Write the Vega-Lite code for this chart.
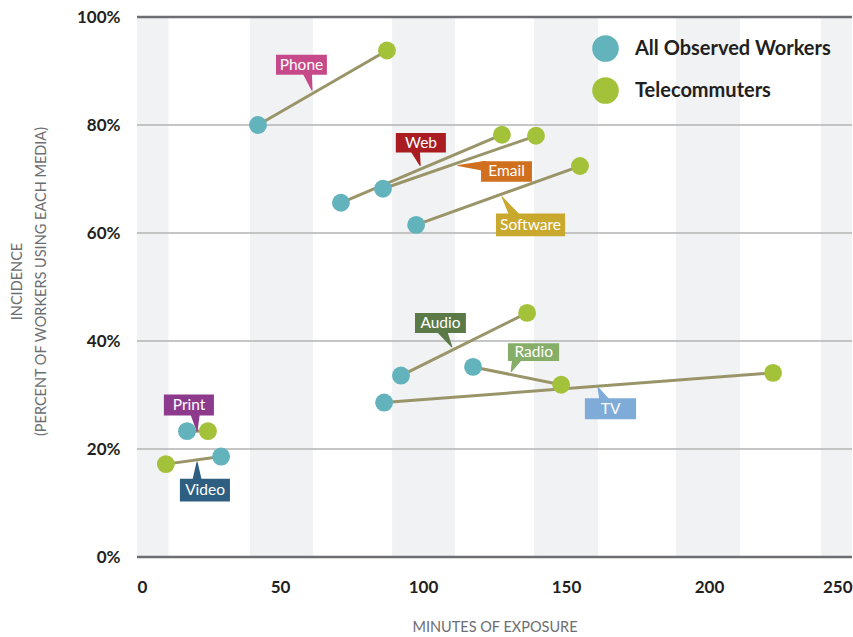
{
  "$schema": "https://vega.github.io/schema/vega-lite/v6.json",
  "width": 715,
  "height": 540,
  "autosize": {"type": "none"},
  "padding": {"left": 137, "top": 17, "right": 1, "bottom": 80},
  "config": {
    "view": {"stroke": null},
    "font": "Lato",
    "axis": {"grid": false, "ticks": false, "domain": false, "labelFont": "Lato", "titleFont": "Lato"}
  },
  "datasets": {
    "points": [
      {"media": "Phone", "group": "All Observed Workers", "minutes": 42.3, "pct": 80.0},
      {"media": "Phone", "group": "Telecommuters", "minutes": 87.4, "pct": 93.8},
      {"media": "Web", "group": "All Observed Workers", "minutes": 71.3, "pct": 65.6},
      {"media": "Web", "group": "Telecommuters", "minutes": 127.6, "pct": 78.2},
      {"media": "Email", "group": "All Observed Workers", "minutes": 86.0, "pct": 68.2},
      {"media": "Email", "group": "Telecommuters", "minutes": 139.5, "pct": 78.0},
      {"media": "Software", "group": "All Observed Workers", "minutes": 97.6, "pct": 61.5},
      {"media": "Software", "group": "Telecommuters", "minutes": 154.9, "pct": 72.4},
      {"media": "Audio", "group": "All Observed Workers", "minutes": 92.3, "pct": 33.6},
      {"media": "Audio", "group": "Telecommuters", "minutes": 136.4, "pct": 45.2},
      {"media": "Radio", "group": "All Observed Workers", "minutes": 117.5, "pct": 35.2},
      {"media": "Radio", "group": "Telecommuters", "minutes": 148.3, "pct": 31.9},
      {"media": "TV", "group": "All Observed Workers", "minutes": 86.4, "pct": 28.6},
      {"media": "TV", "group": "Telecommuters", "minutes": 222.4, "pct": 34.1},
      {"media": "Print", "group": "All Observed Workers", "minutes": 17.5, "pct": 23.3},
      {"media": "Print", "group": "Telecommuters", "minutes": 24.8, "pct": 23.3},
      {"media": "Video", "group": "All Observed Workers", "minutes": 29.4, "pct": 18.6},
      {"media": "Video", "group": "Telecommuters", "minutes": 10.1, "pct": 17.2}
    ],
    "bands": [
      {"b0": 0, "b1": 11},
      {"b0": 39.5, "b1": 61.5},
      {"b0": 89.2, "b1": 111.2},
      {"b0": 138.8, "b1": 161.2},
      {"b0": 188.5, "b1": 210.8},
      {"b0": 239.2, "b1": 250}
    ],
    "grid": [
      {"pct": 0}, {"pct": 20}, {"pct": 40}, {"pct": 60}, {"pct": 80}, {"pct": 100}
    ],
    "labels": [
      {"label": "Phone", "x1": 48.6, "x2": 66.4, "y1": 89.3, "y2": 93.0, "cx": 57.5, "cy": 91.2},
      {"label": "Web", "x1": 90.5, "x2": 108.0, "y1": 74.9, "y2": 78.5, "cx": 99.3, "cy": 76.7},
      {"label": "Email", "x1": 120.3, "x2": 138.1, "y1": 69.5, "y2": 73.3, "cx": 129.2, "cy": 71.4},
      {"label": "Software", "x1": 125.5, "x2": 149.7, "y1": 59.4, "y2": 63.6, "cx": 137.6, "cy": 61.5},
      {"label": "Audio", "x1": 97.2, "x2": 115.0, "y1": 41.5, "y2": 45.2, "cx": 106.1, "cy": 43.4},
      {"label": "Radio", "x1": 129.7, "x2": 147.6, "y1": 36.3, "y2": 39.6, "cx": 138.7, "cy": 38.0},
      {"label": "TV", "x1": 156.6, "x2": 174.5, "y1": 25.5, "y2": 29.4, "cx": 165.6, "cy": 27.5},
      {"label": "Print", "x1": 9.4, "x2": 26.9, "y1": 26.2, "y2": 30.1, "cx": 18.2, "cy": 28.2},
      {"label": "Video", "x1": 15.0, "x2": 32.5, "y1": 10.3, "y2": 14.5, "cx": 23.8, "cy": 12.4}
    ],
    "wedges": [
      {"label": "Phone", "x": 59.4, "y": 90.0, "t": 1},
      {"label": "Phone", "x": 61.2, "y": 86.4, "t": 0},
      {"label": "Web", "x": 97.2, "y": 75.5, "t": 1},
      {"label": "Web", "x": 99.0, "y": 72.5, "t": 0},
      {"label": "Email", "x": 121.5, "y": 72.4, "t": 1},
      {"label": "Email", "x": 112.2, "y": 72.5, "t": 0},
      {"label": "Software", "x": 132.2, "y": 63.0, "t": 1},
      {"label": "Software", "x": 127.6, "y": 66.7, "t": 0},
      {"label": "Audio", "x": 106.6, "y": 42.0, "t": 1},
      {"label": "Audio", "x": 110.1, "y": 38.9, "t": 0},
      {"label": "Radio", "x": 132.9, "y": 36.8, "t": 1},
      {"label": "Radio", "x": 130.8, "y": 34.3, "t": 0},
      {"label": "TV", "x": 163.3, "y": 29.0, "t": 1},
      {"label": "TV", "x": 161.2, "y": 31.4, "t": 0},
      {"label": "Print", "x": 20.3, "y": 26.7, "t": 1},
      {"label": "Print", "x": 21.0, "y": 23.3, "t": 0},
      {"label": "Video", "x": 21.0, "y": 14.0, "t": 1},
      {"label": "Video", "x": 21.0, "y": 17.6, "t": 0}
    ]
  },
  "layer": [
    {
      "data": {"name": "bands"},
      "mark": {"type": "rect", "color": "#f1f2f4"},
      "encoding": {
        "x": {
          "field": "b0", "type": "quantitative", "scale": {"domain": [0, 250], "nice": false},
          "axis": {
            "values": [0, 50, 100, 150, 200, 250], "labelFlush": true,
            "labelFontSize": 17, "labelFontWeight": "bold", "labelColor": "#231f20", "labelPadding": 22,
            "title": "MINUTES OF EXPOSURE", "titleFontSize": 14.5, "titleFontWeight": "normal", "titleColor": "#6d6e71", "titlePadding": 25
          }
        },
        "x2": {"field": "b1"}
      }
    },
    {
      "data": {"name": "grid"},
      "mark": {"type": "rule"},
      "encoding": {
        "y": {
          "field": "pct", "type": "quantitative", "scale": {"domain": [0, 100], "nice": false},
          "axis": {
            "values": [0, 20, 40, 60, 80, 100], "labelExpr": "datum.value + '%'",
            "labelFontSize": 17, "labelFontWeight": "bold", "labelColor": "#231f20", "labelPadding": 17,
            "title": ["INCIDENCE", "(PERCENT OF WORKERS USING EACH MEDIA)"],
            "titleFontSize": 14.5, "titleFontWeight": "normal", "titleColor": "#6d6e71", "titleLineHeight": 24,
            "titleX": -113, "titleY": 264, "titleAngle": 270, "titleAlign": "center", "titleBaseline": "bottom"
          }
        },
        "color": {"condition": {"test": "datum.pct == 0 || datum.pct == 100", "value": "#6d6e71"}, "value": "#b3b3b3"},
        "strokeWidth": {"condition": {"test": "datum.pct == 0 || datum.pct == 100", "value": 2.5}, "value": 1.5}
      }
    },
    {
      "data": {"name": "points"},
      "mark": {"type": "line", "color": "#9a9569", "strokeWidth": 3},
      "encoding": {
        "x": {"field": "minutes", "type": "quantitative"},
        "y": {"field": "pct", "type": "quantitative"},
        "detail": {"field": "media"}
      }
    },
    {
      "data": {"name": "wedges"},
      "mark": {"type": "trail"},
      "encoding": {
        "x": {"field": "x", "type": "quantitative"},
        "y": {"field": "y", "type": "quantitative"},
        "detail": {"field": "label"},
        "size": {"field": "t", "type": "quantitative", "scale": {"domain": [0, 1], "range": [0, 10]}, "legend": null},
        "color": {
          "field": "label", "type": "nominal", "legend": null,
          "scale": {
            "domain": ["Phone", "Web", "Email", "Software", "Audio", "Radio", "TV", "Print", "Video"],
            "range": ["#c6498a", "#a81c22", "#d0701f", "#c9a92d", "#5b7a47", "#86ae69", "#7fabd9", "#8d3a8d", "#2e5f81"]
          }
        }
      }
    },
    {
      "data": {"name": "labels"},
      "mark": {"type": "rect"},
      "encoding": {
        "x": {"field": "x1", "type": "quantitative"},
        "x2": {"field": "x2"},
        "y": {"field": "y1", "type": "quantitative"},
        "y2": {"field": "y2"},
        "color": {
          "field": "label", "type": "nominal", "legend": null,
          "scale": {
            "domain": ["Phone", "Web", "Email", "Software", "Audio", "Radio", "TV", "Print", "Video"],
            "range": ["#c6498a", "#a81c22", "#d0701f", "#c9a92d", "#5b7a47", "#86ae69", "#7fabd9", "#8d3a8d", "#2e5f81"]
          }
        }
      }
    },
    {
      "data": {"name": "labels"},
      "mark": {"type": "text", "color": "white", "fontSize": 15.5, "font": "Lato", "align": "center", "baseline": "middle"},
      "encoding": {
        "x": {"field": "cx", "type": "quantitative"},
        "y": {"field": "cy", "type": "quantitative"},
        "text": {"field": "label"}
      }
    },
    {
      "data": {"name": "points"},
      "mark": {"type": "point", "filled": true, "opacity": 1, "size": 320, "shape": "circle"},
      "encoding": {
        "x": {"field": "minutes", "type": "quantitative"},
        "y": {"field": "pct", "type": "quantitative"},
        "color": {
          "field": "group", "type": "nominal",
          "scale": {"domain": ["All Observed Workers", "Telecommuters"], "range": ["#63b3bd", "#a3c139"]},
          "legend": {
            "title": null, "orient": "none", "legendX": 455, "legendY": 18, "padding": 0,
            "symbolType": "circle", "symbolSize": 707, "symbolOpacity": 1, "symbolStrokeWidth": 0,
            "labelFontSize": 20, "labelFontWeight": "bold", "labelColor": "#231f20", "labelFont": "Lato",
            "labelOffset": 16, "rowPadding": 15, "labelLimit": 300
          }
        }
      }
    }
  ],
  "resolve": {"scale": {"color": "independent", "size": "independent"}}
}
